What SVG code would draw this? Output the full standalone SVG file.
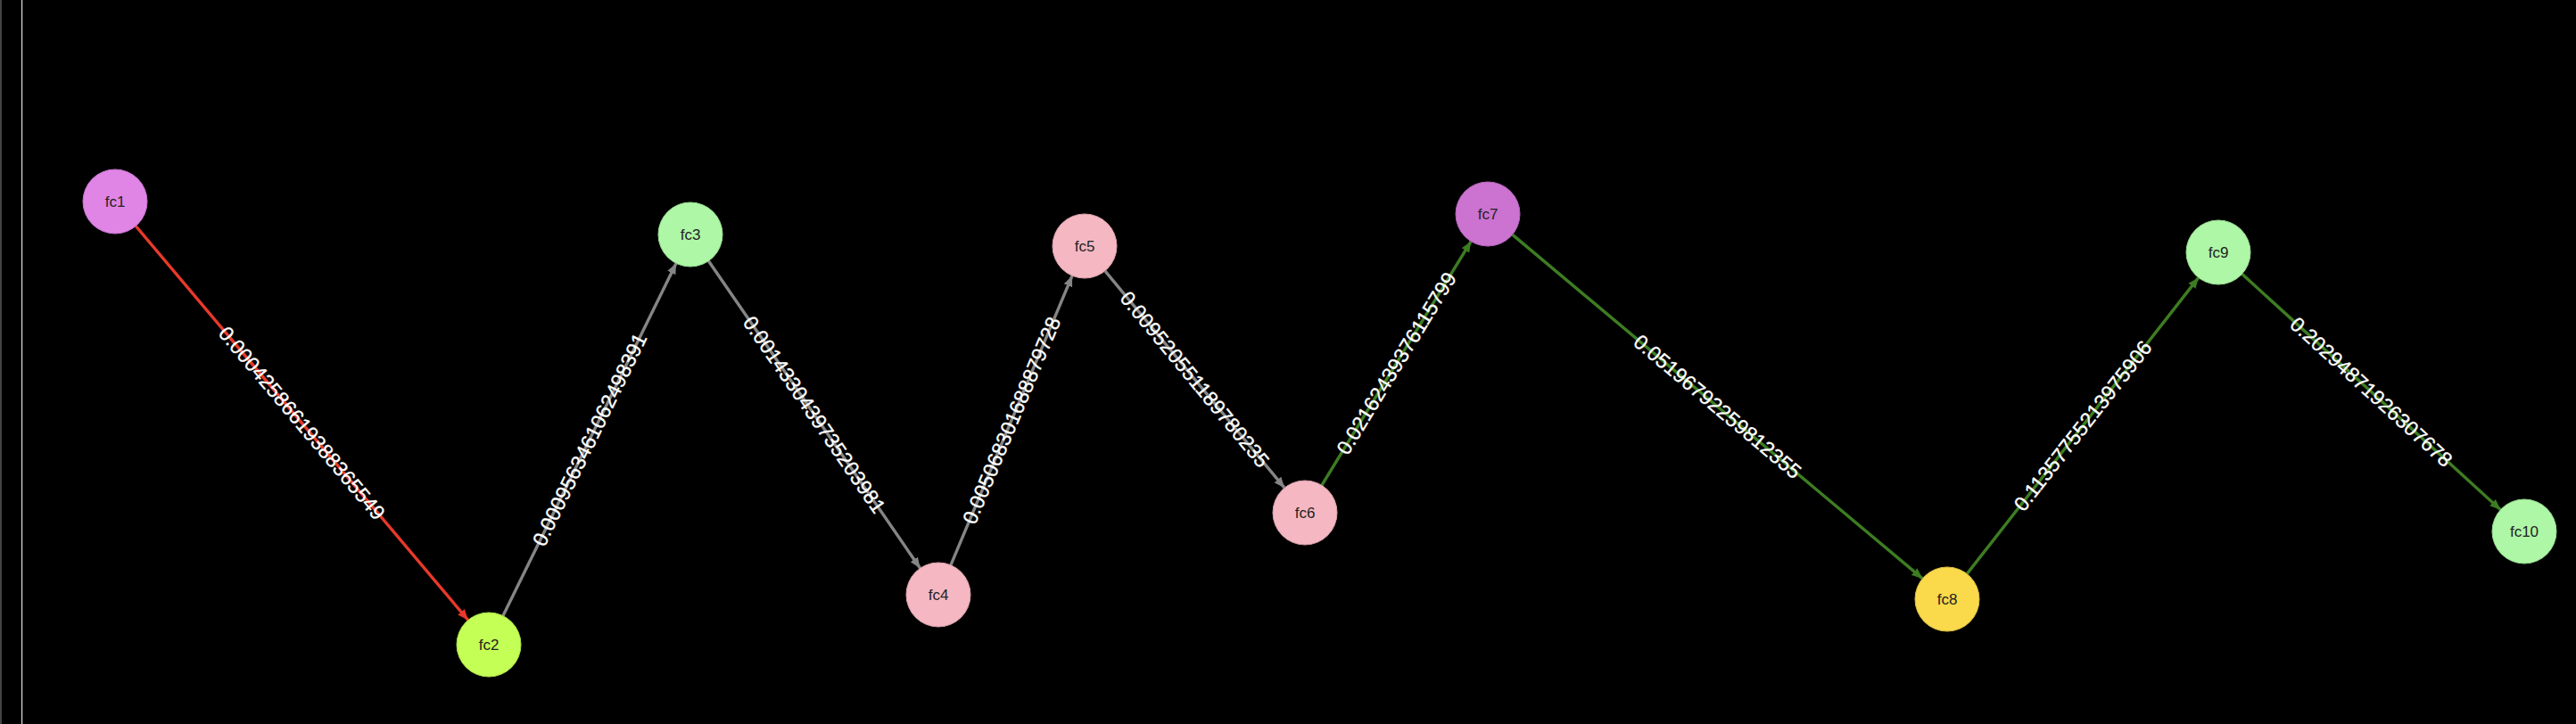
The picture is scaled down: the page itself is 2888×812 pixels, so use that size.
<svg xmlns="http://www.w3.org/2000/svg" width="2888" height="812" viewBox="0 0 2888 812">
<style>
.node circle{stroke-width:1}
.node text{font-family:"Liberation Sans",Arial,sans-serif;font-size:17px;fill:#222;text-anchor:middle;dominant-baseline:central}
.edge{fill:none;stroke-width:3.4}
.red{stroke:#e8392b}
.gray{stroke:#858585}
.green{stroke:#3d7d22}
.lbl{font-family:"Liberation Sans",Arial,sans-serif;font-size:23px;fill:#ffffff;stroke:#ffffff;stroke-width:0.3;text-anchor:middle;dominant-baseline:central}
</style>
<defs>
<marker id="ar-red" markerUnits="userSpaceOnUse" markerWidth="14" markerHeight="12" refX="12" refY="6" orient="auto"><path d="M0,1 L12,6 L0,11 Z" fill="#e8392b"/></marker>
<marker id="ar-gray" markerUnits="userSpaceOnUse" markerWidth="14" markerHeight="12" refX="12" refY="6" orient="auto"><path d="M0,1 L12,6 L0,11 Z" fill="#858585"/></marker>
<marker id="ar-green" markerUnits="userSpaceOnUse" markerWidth="14" markerHeight="12" refX="12" refY="6" orient="auto"><path d="M0,1 L12,6 L0,11 Z" fill="#3d7d22"/></marker>
</defs>
<rect x="0" y="0" width="2888" height="812" fill="#000000"/>
<rect x="0" y="0" width="2" height="812" fill="#444444"/>
<rect x="24" y="0" width="1.2" height="812" fill="#dddddd"/>
<g id="connectors">
<path class="edge red" d="M152.2,253.5 L524.8,695.5" marker-end="url(#ar-red)"/>
<path class="edge gray" d="M563.9,690.7 L758.1,295.3" marker-end="url(#ar-gray)"/>
<path class="edge gray" d="M794.4,292.7 L1031.6,637.3" marker-end="url(#ar-gray)"/>
<path class="edge gray" d="M1065.9,633.8 L1202.1,309.2" marker-end="url(#ar-gray)"/>
<path class="edge gray" d="M1238.9,303.8 L1440.1,547.2" marker-end="url(#ar-gray)"/>
<path class="edge green" d="M1481.8,544.3 L1649.2,270.7" marker-end="url(#ar-green)"/>
<path class="edge green" d="M1695.6,263.1 L2155.4,648.9" marker-end="url(#ar-green)"/>
<path class="edge green" d="M2205.2,643.6 L2464.8,311.4" marker-end="url(#ar-green)"/>
<path class="edge green" d="M2513.6,307.3 L2803.4,571.7" marker-end="url(#ar-green)"/>
<text class="lbl" transform="translate(338.5,474.5) rotate(49.87)">0.00042586619388365549</text>
<text class="lbl" transform="translate(661,493) rotate(-63.84)">0.0009563461062498391</text>
<text class="lbl" transform="translate(913,465) rotate(55.46)">0.0014330439735203981</text>
<text class="lbl" transform="translate(1134,471.5) rotate(-67.24)">0.005068301688879728</text>
<text class="lbl" transform="translate(1339.5,425.5) rotate(50.44)">0.009520551189780235</text>
<text class="lbl" transform="translate(1565.5,407.5) rotate(-58.53)">0.02162439376115799</text>
<text class="lbl" transform="translate(1925.5,456) rotate(39.99)">0.05196792259812355</text>
<text class="lbl" transform="translate(2335,477.5) rotate(-51.99)">0.11357755213975906</text>
<text class="lbl" transform="translate(2658.5,439.5) rotate(42.38)">0.20294871926307678</text>
</g>
<g id="fc1" class="node"><circle cx="129" cy="226" r="36" fill="#e085e6" stroke="#c774cc"/><text x="129" y="226">fc1</text></g>
<g id="fc2" class="node"><circle cx="548" cy="723" r="36" fill="#c4ff55" stroke="#aee04b"/><text x="548" y="723">fc2</text></g>
<g id="fc3" class="node"><circle cx="774" cy="263" r="36" fill="#aef7a6" stroke="#98dc92"/><text x="774" y="263">fc3</text></g>
<g id="fc4" class="node"><circle cx="1052" cy="667" r="36" fill="#f5b8c2" stroke="#dba3ad"/><text x="1052" y="667">fc4</text></g>
<g id="fc5" class="node"><circle cx="1216" cy="276" r="36" fill="#f5b8c2" stroke="#dba3ad"/><text x="1216" y="276">fc5</text></g>
<g id="fc6" class="node"><circle cx="1463" cy="575" r="36" fill="#f5b8c2" stroke="#dba3ad"/><text x="1463" y="575">fc6</text></g>
<g id="fc7" class="node"><circle cx="1668" cy="240" r="36" fill="#cc73d1" stroke="#b565ba"/><text x="1668" y="240">fc7</text></g>
<g id="fc8" class="node"><circle cx="2183" cy="672" r="36" fill="#fad94b" stroke="#dfc143"/><text x="2183" y="672">fc8</text></g>
<g id="fc9" class="node"><circle cx="2487" cy="283" r="36" fill="#aef7a6" stroke="#98dc92"/><text x="2487" y="283">fc9</text></g>
<g id="fc10" class="node"><circle cx="2830" cy="596" r="36" fill="#aef7a6" stroke="#98dc92"/><text x="2830" y="596">fc10</text></g>
</svg>
